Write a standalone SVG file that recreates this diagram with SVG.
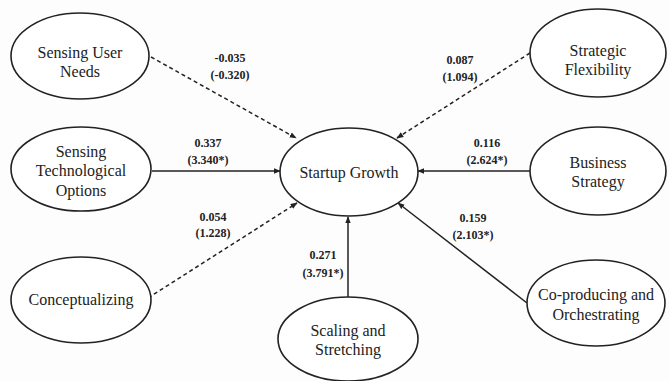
<svg xmlns="http://www.w3.org/2000/svg" width="669" height="381" viewBox="0 0 669 381">
<style>
.node ellipse{fill:#fff;stroke:#222;stroke-width:1.6}
.node text{font-family:"Liberation Serif","Times New Roman",serif;font-size:16px;fill:#222;text-anchor:middle}
.lbl{font-family:"Liberation Serif","Times New Roman",serif;font-size:12px;font-weight:bold;fill:#222;text-anchor:middle}
.edge{stroke:#222;stroke-width:1.5;fill:none;marker-end:url(#ah)}
.dash{stroke-dasharray:4 3}
</style>
<defs>
<marker id="ah" viewBox="0 0 10 10" refX="9" refY="5" markerWidth="7" markerHeight="7" orient="auto" markerUnits="userSpaceOnUse">
<path d="M0,1 L10,5 L0,9 z" fill="#222"/>
</marker>
</defs>
<rect width="669" height="381" fill="#fdfdfd"/>
<g id="connectors">
<line class="edge dash" x1="151" y1="57" x2="296" y2="138"/>
<line class="edge dash" x1="530" y1="53" x2="397" y2="138"/>
<line class="edge" x1="152" y1="171" x2="280" y2="171"/>
<line class="edge dash" x1="148" y1="298" x2="297" y2="203"/>
<line class="edge" x1="530" y1="171" x2="418" y2="171"/>
<line class="edge" x1="527" y1="303" x2="398" y2="203"/>
<line class="edge" x1="348" y1="297" x2="348" y2="217"/>
<text class="lbl" x="230" y="62">-0.035</text>
<text class="lbl" x="230" y="79">(-0.320)</text>
<text class="lbl" x="460" y="64">0.087</text>
<text class="lbl" x="460" y="81">(1.094)</text>
<text class="lbl" x="208" y="147">0.337</text>
<text class="lbl" x="208" y="164">(3.340*)</text>
<text class="lbl" x="213" y="221">0.054</text>
<text class="lbl" x="213" y="237">(1.228)</text>
<text class="lbl" x="487" y="147">0.116</text>
<text class="lbl" x="487" y="164">(2.624*)</text>
<text class="lbl" x="473" y="222">0.159</text>
<text class="lbl" x="473" y="239">(2.103*)</text>
<text class="lbl" x="323" y="259">0.271</text>
<text class="lbl" x="323" y="277">(3.791*)</text>
</g>
<g id="sensing-user-needs" class="node">
<ellipse cx="80" cy="56" rx="69" ry="43"/>
<text x="80" y="58">Sensing User</text>
<text x="80" y="77">Needs</text>
</g>
<g id="strategic-flexibility" class="node">
<ellipse cx="598" cy="53" rx="68" ry="44"/>
<text x="598" y="56">Strategic</text>
<text x="598" y="75">Flexibility</text>
</g>
<g id="sensing-tech" class="node">
<ellipse cx="81" cy="169" rx="70" ry="42"/>
<text x="81" y="157">Sensing</text>
<text x="81" y="176">Technological</text>
<text x="81" y="196">Options</text>
</g>
<g id="startup-growth" class="node">
<ellipse cx="349" cy="172" rx="69" ry="44"/>
<text x="349" y="178">Startup Growth</text>
</g>
<g id="business-strategy" class="node">
<ellipse cx="598" cy="171" rx="68" ry="44"/>
<text x="598" y="168">Business</text>
<text x="598" y="187">Strategy</text>
</g>
<g id="conceptualizing" class="node">
<ellipse cx="81" cy="300" rx="70" ry="43"/>
<text x="81" y="305">Conceptualizing</text>
</g>
<g id="scaling-stretching" class="node">
<ellipse cx="348" cy="339" rx="70" ry="42"/>
<text x="348" y="336">Scaling and</text>
<text x="348" y="355">Stretching</text>
</g>
<g id="co-producing" class="node">
<ellipse cx="596" cy="303" rx="69" ry="43"/>
<text x="596" y="300">Co-producing and</text>
<text x="596" y="320">Orchestrating</text>
</g>
</svg>
